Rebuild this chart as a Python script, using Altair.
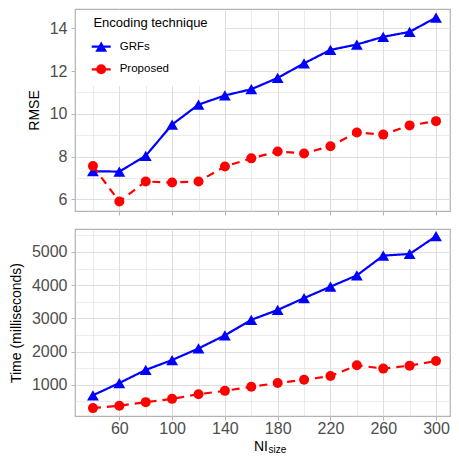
import altair as alt
import pandas as pd

# ---------------- data ----------------
ni_size = [40, 60, 80, 100, 120, 140, 160, 180, 200, 220, 240, 260, 280, 300]
rmse_grfs = [7.32, 7.30, 8.04, 9.50, 10.43, 10.86, 11.15, 11.68, 12.36, 12.99, 13.24, 13.60, 13.83, 14.50]
rmse_proposed = [7.56, 5.90, 6.84, 6.79, 6.84, 7.54, 7.92, 8.24, 8.15, 8.49, 9.13, 9.03, 9.46, 9.66]
time_grfs = [682, 1050, 1446, 1744, 2092, 2488, 2955, 3253, 3610, 3955, 4295, 4890, 4940, 5476]
time_proposed = [295, 366, 475, 574, 714, 815, 940, 1050, 1150, 1260, 1585, 1485, 1575, 1714]
techniques = ["GRFs", "Proposed"]
legend_title_text = "Encoding technique"
x_ticks = list(range(40, 301, 20))
rmse_ticks = list(range(6, 15))
time_ticks = list(range(500, 5501, 500))

# ---------------- styles ----------------
FONT = "Liberation Sans"
colors = ["#0000FF", "#FF0000"]
shapes = ["triangle-up", "circle"]
dashes = [[1, 0], [8, 6]]
sizes = [140, 100]
W = 375
H_TOP = 202
H_BOT = 187


def long(a, b):
    return pd.DataFrame({
        "NI": ni_size * 2,
        "value": a + b,
        "technique": [techniques[0]] * len(a) + [techniques[1]] * len(b),
    })


color = alt.Color("technique:N", scale=alt.Scale(domain=techniques, range=colors), legend=None)
shape = alt.Shape("technique:N", scale=alt.Scale(domain=techniques, range=shapes), legend=None)
dash = alt.StrokeDash("technique:N", scale=alt.Scale(domain=techniques, range=dashes), legend=None)
size = alt.Size("technique:O", scale=alt.Scale(domain=techniques, range=sizes), legend=None)

x_scale = alt.Scale(domain=[26.4, 310.6], nice=False, zero=False)

major_x = "datum.value % 40 == 20"
grid_w_x = {"condition": {"test": major_x, "value": 1}, "value": 0.6}
tick_op_x = {"condition": {"test": major_x, "value": 1}, "value": 0}


def panel(df, y_title, y_domain, y_ticks, major_test, label_fmt, bottom):
    grid_w_y = {"condition": {"test": major_test, "value": 1}, "value": 0.6}
    tick_op_y = {"condition": {"test": major_test, "value": 1}, "value": 0}
    if bottom:
        x_axis = alt.Axis(values=x_ticks, title=None, gridWidth=grid_w_x, tickOpacity=tick_op_x,
                          labelExpr=f"{major_x} ? datum.label : ''", labelPadding=0, format="d")
    else:
        x_axis = alt.Axis(values=x_ticks, title=None, labels=False, gridWidth=grid_w_x, tickOpacity=tick_op_x)
    y_axis = alt.Axis(values=y_ticks, title=y_title, gridWidth=grid_w_y, tickOpacity=tick_op_y,
                      labelExpr=f"{major_test} ? datum.label : ''", format=label_fmt,
                      labelPadding=4, titlePadding=8)
    base = alt.Chart(df).encode(
        x=alt.X("NI:Q", scale=x_scale, axis=x_axis),
        y=alt.Y("value:Q", scale=alt.Scale(domain=y_domain, nice=False, zero=False), axis=y_axis),
        color=color,
    )
    lines = base.mark_line(strokeWidth=2.2).encode(strokeDash=dash)
    points = base.mark_point(filled=True, opacity=1).encode(shape=shape, size=size)
    return lines, points


top_lines, top_points = panel(long(rmse_grfs, rmse_proposed), "RMSE", [5.46, 14.9], rmse_ticks,
                              "datum.value % 2 == 0", "d", False)
bot_lines, bot_points = panel(long(time_grfs, time_proposed), "Time (milliseconds)", [57, 5693], time_ticks,
                              "datum.value % 1000 == 0", "d", True)

# ---------------- manual legend (top panel) ----------------
one = pd.DataFrame({"k": [0]})
legend_layers = [
    alt.Chart(one).mark_rect(fill="white").encode(
        x=alt.value(1), x2=alt.value(150), y=alt.value(1), y2=alt.value(77)),
    alt.Chart(pd.DataFrame({"t": [legend_title_text]})).mark_text(
        align="left", baseline="middle", fontSize=13, font=FONT, color="black").encode(
        text="t:N", x=alt.value(18.4), y=alt.value(13.7)),
]
entry_y = [37.7, 60.3]
for i, tech in enumerate(techniques):
    d = pd.DataFrame({"technique": [tech]})
    legend_layers.append(alt.Chart(d).mark_rule(strokeWidth=2.2, strokeDash=dashes[i], color=colors[i]).encode(
        x=alt.value(16.7), x2=alt.value(35.7), y=alt.value(entry_y[i])))
    legend_layers.append(alt.Chart(d).mark_point(filled=True, opacity=1, shape=shapes[i], size=sizes[i],
                                                 color=colors[i]).encode(
        x=alt.value(26.2), y=alt.value(entry_y[i])))
    legend_layers.append(alt.Chart(d).mark_text(align="left", baseline="middle", fontSize=11.5, font=FONT,
                                                color="black").encode(
        text="technique:N", x=alt.value(44.7), y=alt.value(entry_y[i])))

top = alt.layer(top_lines, *legend_layers[:1], top_points, *legend_layers[1:]).properties(width=W, height=H_TOP)

# ---------------- x-axis title with subscript (bottom panel) ----------------
xt_main = alt.Chart(pd.DataFrame({"t": ["NI"]})).mark_text(
    align="right", baseline="alphabetic", fontSize=14, font=FONT, color="black").encode(
    text="t:N", x=alt.value(193), y=alt.value(H_BOT + 35))
xt_sub = alt.Chart(pd.DataFrame({"t": ["size"]})).mark_text(
    align="left", baseline="alphabetic", fontSize=10, font=FONT, color="black").encode(
    text="t:N", x=alt.value(193.5), y=alt.value(H_BOT + 37))

bottom = alt.layer(bot_lines, bot_points, xt_main, xt_sub).properties(width=W, height=H_BOT)

chart = alt.vconcat(top, bottom, spacing=11).resolve_scale(
    y="independent"
).properties(
    padding={"left": 0, "top": 0, "right": 0, "bottom": 0}
).configure_view(
    stroke="#b3b3b3", strokeWidth=1.2
).configure_axis(
    labelFont=FONT, titleFont=FONT, labelFontSize=16, labelColor="#4d4d4d",
    titleFontSize=14, titleFontWeight="normal", titleColor="black",
    tickColor="#b3b3b3", tickSize=4, tickWidth=1, domain=False, gridColor="#dedede",
)

chart.save("out.html", embed_options={"renderer": "svg", "actions": False})
